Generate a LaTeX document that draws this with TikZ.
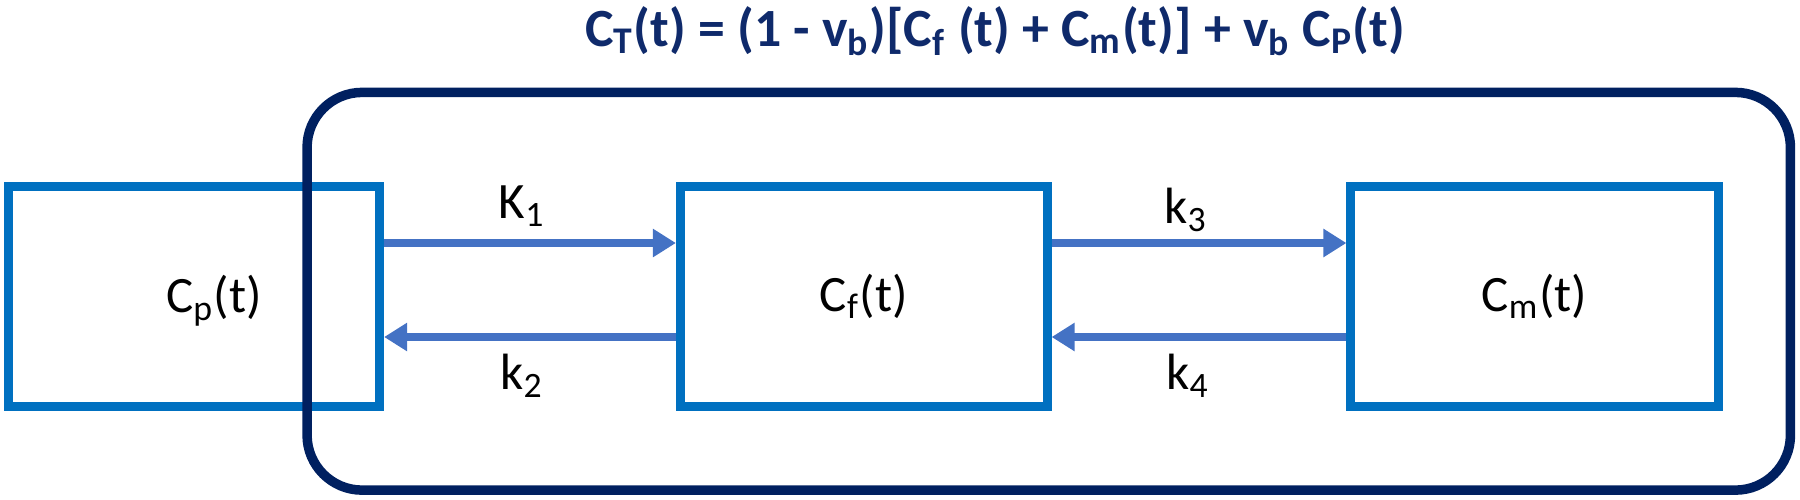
\documentclass[tikz,border=0pt]{standalone}
\usepackage{fontspec}
\setmainfont{Carlito}
\usetikzlibrary{arrows.meta}
\definecolor{boxblue}{HTML}{0070C0}
\definecolor{arrowblue}{HTML}{4472C4}
\definecolor{navy}{HTML}{002060}
\definecolor{titlenavy}{HTML}{0F2A6B}
\begin{document}
\begin{tikzpicture}[x=0.01cm,y=-0.01cm,
  comp/.style={draw=boxblue, line width=0.09cm, minimum height=2.19cm, inner sep=0pt,
    font=\fontsize{14.5}{17}\selectfont},
  flow/.style={draw=arrowblue, line width=0.08cm, -{Triangle[length=0.23cm,width=0.27cm]}},
  rate/.style={font=\fontsize{14.5}{17}\selectfont, inner sep=0pt},
  tissue/.style={draw=navy, line width=0.095cm, rounded corners=0.55cm, inner sep=0pt}]
\useasboundingbox (0,0) rectangle (1800,499);
% compartments
\node[comp, minimum width=3.71cm] (cp) at (194,296.5) {};
\node[rate] (cptext) at (214,301) {C\textsubscript{p}(t)};
\node[comp, minimum width=3.665cm] (cf) at (863.75,296.5) {C\textsubscript{f}(t)};
\node[comp, minimum width=3.67cm] (cm) at (1534.5,296.5) {C\textsubscript{m}(t)};
% tissue region
\node[tissue, minimum width=14.825cm, minimum height=3.975cm] (outer) at (1048.75,291.25) {};
% title
\node[font=\fontsize{15.3}{18}\selectfont\bfseries, text=titlenavy, inner sep=0pt] (title) at (995,31)
  {C\textsubscript{T}(t) = (1 - v\textsubscript{b})[C\textsubscript{f} (t) + C\textsubscript{m}(t)] + v\textsubscript{b} C\textsubscript{P}(t)};
% flows
\coordinate (up) at (0,243);
\coordinate (lo) at (0,337);
\draw[flow] (cp.east |- up) -- (cf.west |- up);
\draw[flow] (cf.west |- lo) -- (cp.east |- lo);
\draw[flow] (cf.east |- up) -- (cm.west |- up);
\draw[flow] (cm.west |- lo) -- (cf.east |- lo);
% rate constants
\node[rate] (k1) at (522,206) {K\textsubscript{1}};
\node[rate] (k2) at (522,376) {k\textsubscript{2}};
\node[rate] (k3) at (1186,210) {k\textsubscript{3}};
\node[rate] (k4) at (1188,376) {k\textsubscript{4}};
\end{tikzpicture}
\end{document}
